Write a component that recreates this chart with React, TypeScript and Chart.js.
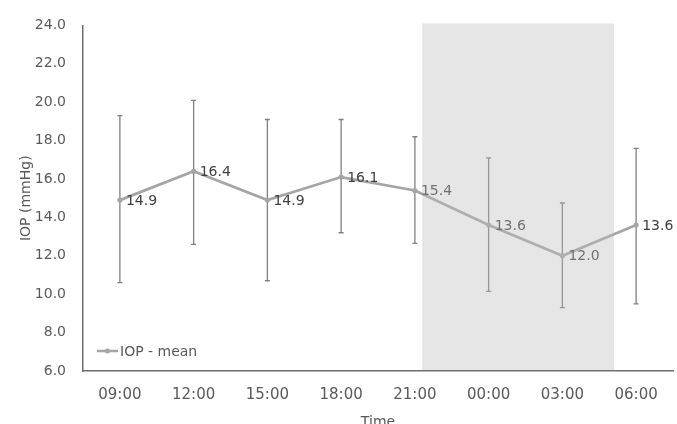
import React, { useEffect, useRef } from "react";
import { Chart, registerables } from "chart.js";

Chart.register(...registerables);

const categories = ["09:00", "12:00", "15:00", "18:00", "21:00", "00:00", "03:00", "06:00"];
const meanValues = [14.9, 16.4, 14.9, 16.1, 15.4, 13.6, 12.0, 13.6];
const upperValues = [19.3, 20.1, 19.1, 19.1, 18.2, 17.1, 14.75, 17.6];
const lowerValues = [10.6, 12.6, 10.7, 13.2, 12.65, 10.15, 9.3, 9.5];
const yMin = 6;
const yMax = 24;
const yStep = 2;
const shadeStartIndex = 4.1;
const shadeEndIndex = 6.7;
const shadeTopValue = 24.1;
const seriesLabel = "IOP - mean";
const yTitle = "IOP (mmHg)";
const xTitle = "Time";

const FONT = "'DejaVu Sans', sans-serif";
const LINE_COLOR = "#a5a5a5";
const TEXT_COLOR = "#595959";
const LABEL_COLOR = "#404040";
const ERR_COLOR = "#808080";
const AXIS_COLOR = "#6e6e6e";

const overlayPlugin = {
  id: "overlayPlugin",
  beforeDatasetsDraw(chart: any) {
    const ctx = chart.ctx;
    const xs = chart.scales.x;
    const ys = chart.scales.y;
    ctx.save();
    ctx.strokeStyle = ERR_COLOR;
    ctx.lineWidth = 1.3;
    for (let i = 0; i < categories.length; i++) {
      const x = xs.getPixelForValue(i);
      const yt = ys.getPixelForValue(upperValues[i]);
      const yb = ys.getPixelForValue(lowerValues[i]);
      ctx.beginPath();
      ctx.moveTo(x, yt);
      ctx.lineTo(x, yb);
      ctx.moveTo(x - 2.5, yt);
      ctx.lineTo(x + 2.5, yt);
      ctx.moveTo(x - 2.5, yb);
      ctx.lineTo(x + 2.5, yb);
      ctx.stroke();
    }
    ctx.restore();
  },
  afterDatasetsDraw(chart: any) {
    const ctx = chart.ctx;
    const xs = chart.scales.x;
    const ys = chart.scales.y;
    ctx.save();
    ctx.font = `14px ${FONT}`;
    ctx.fillStyle = LABEL_COLOR;
    ctx.textAlign = "left";
    ctx.textBaseline = "middle";
    for (let i = 0; i < categories.length; i++) {
      const x = xs.getPixelForValue(i);
      const y = ys.getPixelForValue(meanValues[i]);
      ctx.fillText(meanValues[i].toFixed(1), x + 6, y + 1);
    }
    ctx.restore();
  },
  afterDraw(chart: any) {
    const ctx = chart.ctx;
    const xs = chart.scales.x;
    const ys = chart.scales.y;
    const area = chart.chartArea;
    ctx.save();
    // legend
    const lx = area.left + 14;
    const ly = area.bottom - 20;
    ctx.strokeStyle = LINE_COLOR;
    ctx.lineWidth = 2.5;
    ctx.beginPath();
    ctx.moveTo(lx, ly);
    ctx.lineTo(lx + 21, ly);
    ctx.stroke();
    ctx.fillStyle = LINE_COLOR;
    ctx.beginPath();
    ctx.arc(lx + 10.5, ly, 2.5, 0, Math.PI * 2);
    ctx.fill();
    ctx.font = `14px ${FONT}`;
    ctx.fillStyle = TEXT_COLOR;
    ctx.textAlign = "left";
    ctx.textBaseline = "middle";
    ctx.fillText(seriesLabel, lx + 23, ly + 1);
    // shaded night period overlay
    const x0 = xs.getPixelForValue(shadeStartIndex);
    const x1 = xs.getPixelForValue(shadeEndIndex);
    const y0 = ys.getPixelForValue(shadeTopValue);
    const y1 = area.bottom - 1;
    ctx.fillStyle = "rgba(190,190,190,0.38)";
    ctx.fillRect(x0, y0, x1 - x0, y1 - y0);
    ctx.fillStyle = "rgba(170,170,170,0.025)";
    for (let x = Math.ceil(x0); x < x1; x += 3) {
      ctx.fillRect(x, y0, 1, y1 - y0);
    }
    ctx.restore();
  },
};

export default function App() {
  const canvasRef = useRef<HTMLCanvasElement | null>(null);

  useEffect(() => {
    document.body.style.margin = "0";
    const canvas = canvasRef.current;
    if (!canvas) return;
    const chart = new Chart(canvas, {
      type: "line",
      data: {
        labels: categories,
        datasets: [
          {
            label: seriesLabel,
            data: meanValues,
            borderColor: LINE_COLOR,
            backgroundColor: LINE_COLOR,
            borderWidth: 2.7,
            pointRadius: 2.6,
            pointBorderWidth: 0,
            pointBackgroundColor: LINE_COLOR,
            tension: 0,
          },
        ],
      },
      options: {
        responsive: false,
        animation: false,
        layout: { padding: { top: 22, right: 2, bottom: 0, left: 0 } },
        plugins: {
          legend: { display: false },
          tooltip: { enabled: false },
        },
        scales: {
          x: {
            type: "category",
            offset: true,
            grid: { display: false, drawTicks: false },
            border: { display: true, color: AXIS_COLOR, width: 1.5 },
            ticks: {
              color: TEXT_COLOR,
              font: { family: FONT, size: 15 },
              padding: 15,
              maxRotation: 0,
              autoSkip: false,
            },
            title: {
              display: true,
              text: xTitle,
              color: TEXT_COLOR,
              font: { family: FONT, size: 14 },
              padding: { top: 0, bottom: -7 },
            },
            afterFit: (scale: any) => {
              scale.height = 53;
            },
          },
          y: {
            min: yMin,
            max: yMax,
            grid: { display: false, drawTicks: false },
            border: { display: true, color: AXIS_COLOR, width: 1.5 },
            ticks: {
              stepSize: yStep,
              color: TEXT_COLOR,
              font: { family: FONT, size: 14 },
              padding: 17,
              callback: (v: any) => Number(v).toFixed(1),
            },
            title: {
              display: true,
              text: yTitle,
              color: TEXT_COLOR,
              font: { family: FONT, size: 14 },
              padding: { top: 17.6, bottom: 0 },
            },
            afterFit: (scale: any) => {
              scale.width = 83;
            },
          },
        },
      },
      plugins: [overlayPlugin],
    });
    return () => chart.destroy();
  }, []);

  return (
    <div style={{ width: 677, height: 424 }}>
      <canvas ref={canvasRef} width={677} height={424} style={{ display: "block" }} />
    </div>
  );
}
